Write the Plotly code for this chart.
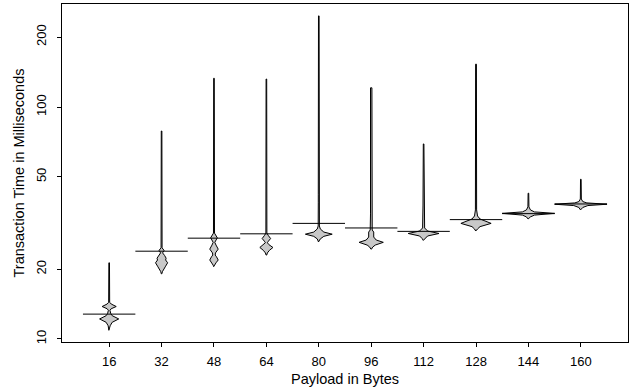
import plotly.graph_objects as go

# ---- data ----
payload = [16, 32, 48, 64, 80, 96, 112, 128, 144, 160]
tick_y = [10, 20, 50, 100, 200]

# mean transaction time per payload (ms)
means = [12.8, 23.9, 27.2, 28.4, 31.5, 30.1, 29.1, 32.7, 34.7, 38.2]

# bean outlines: transaction times (ms) and relative density at each
t16 = [21.3, 14.4, 14.15, 13.8, 13.5, 13.3, 12.9, 12.6, 12.2, 11.8, 11.4, 10.9]
d16 = [0.3, 0.5, 2, 7, 2, 0.8, 1.5, 3, 9.5, 3, 1, 0.3]

t32 = [78.8, 24.7, 24.1, 23.5, 22.9, 22.3, 21.9, 21.3, 20.6, 20.0, 19.5, 19.1]
d32 = [0.3, 0.5, 2.5, 1, 3, 4.5, 4, 6, 4, 2, 0.8, 0.3]

t48 = [133, 28.6, 27.3, 26.1, 25.4, 24.4, 23.5, 23.0, 22.6, 21.9, 21.3, 20.8, 20.5]
d48 = [0.3, 0.5, 3.3, 0.8, 2, 4.2, 1.5, 1.2, 2.5, 4.2, 2, 0.8, 0.3]

t64 = [132, 28.6, 27.9, 27.1, 26.4, 26.0, 25.5, 24.8, 24.1, 23.5, 23.0]
d64 = [0.3, 0.5, 2, 4.2, 2, 1, 2.5, 6.5, 3, 1, 0.3]

t80 = [247, 41.8, 40.1, 38.6, 30.7, 29.8, 28.9, 28.3, 27.7, 27.0, 26.2]
d80 = [0.3, 0.5, 0.8, 0.5, 0.6, 1.5, 5, 13.3, 5, 1.5, 0.3]

t96 = [121, 34.6, 33.2, 31.9, 29.5, 28.9, 27.5, 26.7, 26.1, 25.4, 24.9, 24.4]
d96 = [0.7, 0.7, 1.1, 0.7, 1, 2.5, 2.5, 5, 12, 4, 1.5, 0.3]

t112 = [69.3, 37.8, 35.3, 33.2, 30.1, 29.2, 28.5, 27.8, 27.1, 26.6]
d112 = [0.3, 0.6, 1.0, 0.7, 1, 4, 15.3, 4, 1.5, 0.3]

t128 = [153, 36.0, 33.9, 32.9, 31.5, 30.5, 29.8, 29.2]
d128 = [0.4, 0.6, 1.5, 4, 15, 4, 1.5, 0.3]

t144 = [42.5, 37.1, 36.0, 35.3, 34.8, 34.2, 33.6, 32.9]
d144 = [0.3, 0.5, 2, 6, 26, 6, 2, 0.3]

t160 = [48.8, 40.1, 39.1, 38.6, 38.1, 37.6, 36.9, 36.0]
d160 = [0.3, 0.5, 2, 6, 26, 7, 2, 0.3]

times = [t16, t32, t48, t64, t80, t96, t112, t128, t144, t160]
dens = [d16, d32, d48, d64, d80, d96, d112, d128, d144, d160]

# ---- styling ----
STEP = 16.0
DENS_SCALE = 0.5 * STEP / 26.0   # bytes of half-width per density unit
LINE_HALF = 0.5 * STEP
FONT = "Liberation Sans, Arial, Helvetica, sans-serif"
BEAN_FILL = "#c8c8c8"

fig = go.Figure()

for cx, ts, ds in zip(payload, times, dens):
    xs = [cx + d * DENS_SCALE for d in ds] + [cx - d * DENS_SCALE for d in reversed(ds)]
    ys = list(ts) + list(reversed(ts))
    fig.add_trace(go.Scatter(
        x=xs + [xs[0]], y=ys + [ys[0]], mode="lines", fill="toself",
        fillcolor=BEAN_FILL, line=dict(color="black", width=1),
        hoverinfo="skip", showlegend=False))

mx, my = [], []
for cx, m in zip(payload, means):
    mx += [cx - LINE_HALF, cx + LINE_HALF, None]
    my += [m, m, None]
fig.add_trace(go.Scatter(x=mx, y=my, mode="lines",
                         line=dict(color="black", width=1),
                         hoverinfo="skip", showlegend=False))

fig.update_layout(
    width=631, height=391,
    margin=dict(l=62, r=3, t=4, b=49, autoexpand=False),
    paper_bgcolor="white", plot_bgcolor="white",
    font=dict(family=FONT, size=13, color="black"),
    xaxis=dict(
        range=[0.1 * STEP, 10.9 * STEP], automargin=False,
        tickmode="array", tickvals=payload, ticktext=[str(p) for p in payload],
        ticks="outside", ticklen=4, tickcolor="black", tickwidth=1,
        showline=True, mirror=True, linecolor="black", linewidth=1,
        showgrid=False, zeroline=False,
        tickfont=dict(size=13), ticklabelstandoff=3,
        title=dict(text="Payload in Bytes", font=dict(size=14.5), standoff=6),
    ),
    yaxis=dict(
        type="log", range=[0.987, 2.444], automargin=False,
        tickmode="array", tickvals=tick_y, ticktext=[str(v) for v in tick_y],
        tickangle=-90,
        ticks="outside", ticklen=4, tickcolor="black", tickwidth=1,
        showline=True, mirror=True, linecolor="black", linewidth=1,
        showgrid=False, zeroline=False,
        tickfont=dict(size=13), ticklabelstandoff=6,
        title=dict(text="Transaction Time in Milliseconds", font=dict(size=14.5), standoff=5),
    ),
)

fig.write_html("out.html", config={"displayModeBar": False},
               post_script="document.body.style.margin='0';")
